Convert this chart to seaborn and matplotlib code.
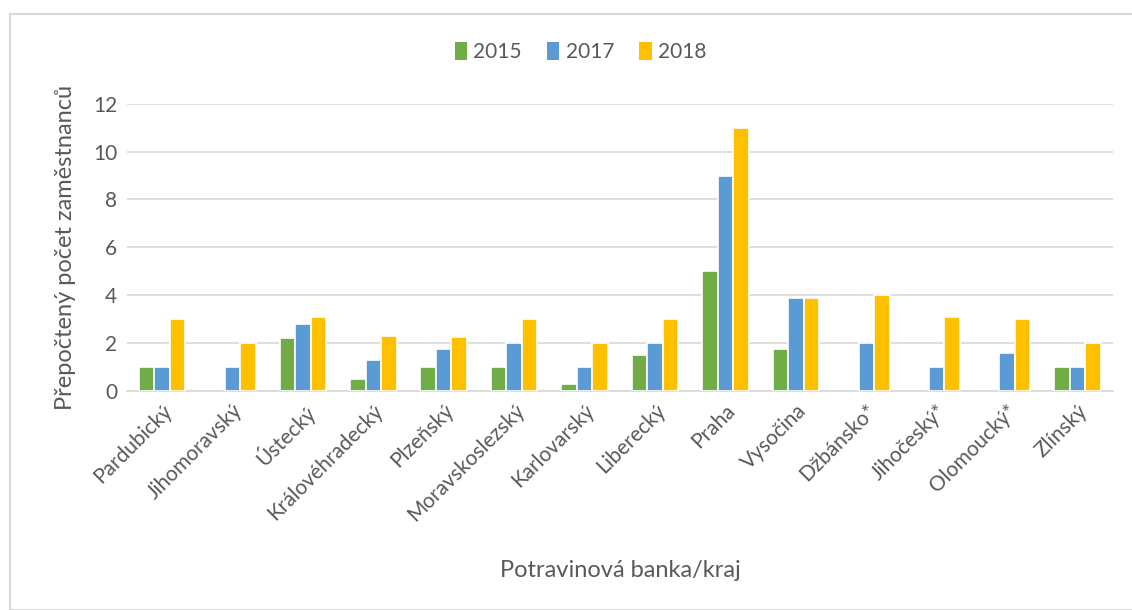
import numpy as np
import pandas as pd
import seaborn as sns
import matplotlib.pyplot as plt
from matplotlib.patches import Rectangle

kraje = ["Pardubický", "Jihomoravský", "Ústecký", "Královéhradecký", "Plzeňský",
         "Moravskoslezský", "Karlovarský", "Liberecký", "Praha", "Vysočina",
         "Džbánsko*", "Jihočeský*", "Olomoucký*", "Zlínský"]
roky = ["2015", "2017", "2018"]
v2015 = [1, 0, 2.2, 0.5, 1, 1, 0.3, 1.5, 5, 1.75, 0, 0, 0, 1]
v2017 = [1, 1, 2.8, 1.3, 1.75, 2, 1, 2, 9, 3.9, 2, 1, 1.6, 1]
v2018 = [3, 2, 3.1, 2.3, 2.25, 3, 2, 3, 11, 3.9, 4, 3.1, 3, 2]
barvy = ["#70AD47", "#5B9BD5", "#FFC000"]

df = pd.DataFrame({
    "kraj": kraje * 3,
    "rok": np.repeat(roky, len(kraje)),
    "hodnota": v2015 + v2017 + v2018,
})

sns.set_theme(style="white")
plt.rcParams["font.family"] = ["Lato", "DejaVu Sans"]
text_color = "#595959"

fig = plt.figure(figsize=(11.32, 6.10), dpi=100)
ax = fig.add_axes([0.112, 0.359, 0.871, 0.471])

sns.barplot(data=df, x="kraj", y="hodnota", hue="rok", palette=barvy, saturation=1,
            width=0.66, edgecolor="white", linewidth=1.2, ax=ax, zorder=3)

# prázdné sloupce (hodnota 0) nekreslit
for cont in ax.containers:
    for bar in cont:
        if bar.get_height() == 0:
            bar.set_visible(False)

ax.set_ylim(0, 12)
ax.set_yticks(range(0, 13, 2))
ax.yaxis.grid(True, color="#D9D9D9", linewidth=1.2, zorder=0)
ax.set_xlim(-0.5, len(kraje) - 0.5)
for s in ["top", "right", "left"]:
    ax.spines[s].set_visible(False)
ax.spines["bottom"].set_color("#D9D9D9")
ax.spines["bottom"].set_linewidth(1.2)
ax.tick_params(axis="both", length=0, labelsize=15, colors=text_color, pad=7)
plt.setp(ax.get_xticklabels(), rotation=45, ha="right", rotation_mode="anchor")

ax.set_ylabel("Přepočtený počet zaměstnanců", fontsize=17, color=text_color, labelpad=12)
ax.set_xlabel("")
fig.text(0.548, 0.065, "Potravinová banka/kraj", ha="center", va="center",
         fontsize=17, color=text_color)

handles = [Rectangle((0, 0), 1, 1, facecolor=c, edgecolor="none") for c in barvy]
ax.legend(handles, roky, loc="center", bbox_to_anchor=(0.46, 1.18), ncol=3,
          frameon=False, fontsize=15, labelcolor=text_color, handlelength=0.6,
          handleheight=1.0, handletextpad=0.3, columnspacing=1.2)

fig.add_artist(Rectangle((0.009, 0.0), 1.0, 0.977, transform=fig.transFigure,
                         fill=False, edgecolor="#D9D9D9", linewidth=1.5))

fig.savefig("out.png", dpi=100)
